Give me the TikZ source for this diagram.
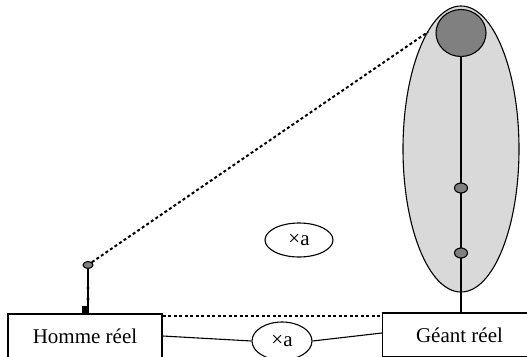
\documentclass[tikz,border=0pt]{standalone}
\usepackage{fontspec}
\setmainfont{Liberation Serif}
\usetikzlibrary{shapes.geometric,calc}
\definecolor{lightg}{HTML}{D9D9D9}
\definecolor{darkg}{HTML}{808080}
\tikzset{
  box/.style={draw,line width=1.1pt,rectangle,minimum width=154pt,minimum height=44pt,inner sep=0pt,font=\fontsize{21}{25}\selectfont},
  mult/.style={draw,line width=1.1pt,ellipse,inner sep=0pt,font=\fontsize{21}{25}\selectfont},
  blob/.style={draw,line width=1.1pt,ellipse,fill=darkg,inner sep=0pt},
  link/.style={line width=1.1pt},
  dotline/.style={line width=2pt,dash pattern=on 3pt off 2.5pt},
}
\begin{document}
\begin{tikzpicture}[x=1pt,y=-1pt]
\useasboundingbox (0,0) rectangle (527,356);
\clip (0,0) rectangle (527,356);
% giant
\node[draw,line width=1.1pt,ellipse,fill=lightg,minimum width=116pt,minimum height=286pt,inner sep=0pt] (giant) at (461,149) {};
\node[blob,minimum width=50pt,minimum height=47pt] (head) at (461,33) {};
\node[box] (geant) at (459.5,335) {Géant réel};
\coordinate (gfoot) at (head.south |- geant.north);
\draw[link] (head.south) -- (gfoot);
\node[blob,minimum width=13pt,minimum height=10pt] (g1) at (461,188) {};
\node[blob,minimum width=13pt,minimum height=10pt] (g2) at (461,253) {};
% man
\node[box] (homme) at (85,336) {Homme réel};
\node[blob,minimum width=10pt,minimum height=7pt] (hhead) at (88,265) {};
\coordinate (hfoot) at (hhead.south |- homme.north);
\draw[line width=1.6pt] (hhead.south) -- (hfoot);
\fill (hfoot) ++(0.8,0) rectangle ++(-7,-7);
\fill (88,288) circle (1.6);
\fill (88,299) circle (1.6);
% multipliers
\node[mult,minimum width=68pt,minimum height=34pt] (xa1) at (299,240) {×a};
\node[mult,minimum width=60pt,minimum height=38pt] (xa2) at (282,341) {×a};
% connectors
\coordinate (gtop) at (428,32);
\draw[dotline] (hhead.north east) -- (gtop);
\coordinate (hd) at ($(homme.north east)+(0,3)$);
\draw[dotline] (hd) -- (hd -| geant.west);
\draw[link] (homme.east) -- (xa2.west);
\draw[link] (xa2.east) -- ($(geant.west)+(0,-2)$);
\end{tikzpicture}
\end{document}
